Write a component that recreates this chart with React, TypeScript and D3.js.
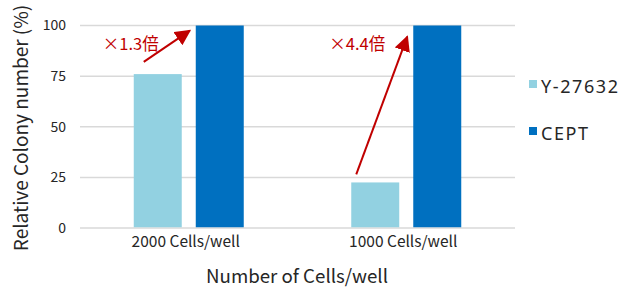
import React, { useEffect, useRef } from "react";
import * as d3 from "d3";

const categories = ["2000 Cells/well", "1000 Cells/well"];
const seriesNames = ["Y-27632", "CEPT"];
const y27632Values = [76, 22.5];
const ceptValues = [100, 100];
const yTicks = [0, 25, 50, 75, 100];
const colors = ["#92d1e1", "#0070c0"];

// fold-change arrows (values in %), with their labels
const arrowLabels = ["×1.3倍", "×4.4倍"];
const arrowFrom = [82, 26.5];
const arrowTo = [97.5, 94.5];

const FONT = "'Noto Sans CJK JP', 'Noto Sans', sans-serif";

const App = () => {
  const ref = useRef<SVGSVGElement>(null);

  useEffect(() => {
    const width = 623;
    const height = 292;
    const marginLeft = 80;
    const marginRight = 108;
    const marginTop = 25.5;
    const marginBottom = 64;

    const svg = d3.select(ref.current);
    svg.selectAll("*").remove();
    svg.attr("width", width).attr("height", height).attr("viewBox", [0, 0, width, height]);

    const x = d3.scaleBand(categories, [marginLeft, width - marginRight]);
    const xz = d3.scaleBand(seriesNames, [0, 110]).paddingInner(0.226);
    const groupOffset = (x.bandwidth() - 110) / 2;
    const y = d3.scaleLinear([0, 100], [height - marginBottom, marginTop]);

    // grid
    svg
      .append("g")
      .selectAll("line")
      .data(yTicks)
      .join("line")
      .attr("x1", marginLeft)
      .attr("x2", width - marginRight)
      .attr("y1", (d) => y(d))
      .attr("y2", (d) => y(d))
      .attr("stroke", "#d9d9d9")
      .attr("stroke-width", 1.5);

    svg
      .append("g")
      .selectAll("text")
      .data(yTicks)
      .join("text")
      .attr("x", 66)
      .attr("y", (d) => y(d))
      .attr("dy", "0.35em")
      .attr("text-anchor", "end")
      .attr("font-family", FONT)
      .attr("font-size", 14)
      .attr("fill", "#262626")
      .text((d) => d);

    const series = [y27632Values, ceptValues];
    series.forEach((vals, si) => {
      svg
        .append("g")
        .selectAll("rect")
        .data(vals)
        .join("rect")
        .attr("x", (d, i) => x(categories[i])! + groupOffset + xz(seriesNames[si])!)
        .attr("y", (d) => y(d))
        .attr("width", xz.bandwidth())
        .attr("height", (d) => y(0) - y(d) - 0.75)
        .attr("fill", colors[si]);
    });

    svg
      .append("g")
      .selectAll("text")
      .data(categories)
      .join("text")
      .attr("x", (d) => x(d)! + x.bandwidth() / 2 - 3)
      .attr("y", 247)
      .attr("text-anchor", "middle")
      .attr("font-family", FONT)
      .attr("font-size", 15.5)
      .attr("fill", "#262626")
      .text((d) => d);

    // axis titles
    svg
      .append("text")
      .attr("x", 297)
      .attr("y", 283)
      .attr("text-anchor", "middle")
      .attr("font-family", FONT)
      .attr("font-size", 18.7)
      .attr("fill", "#262626")
      .text("Number of Cells/well");

    svg
      .append("text")
      .attr("transform", "translate(28,128) rotate(-90)")
      .attr("text-anchor", "middle")
      .attr("font-family", FONT)
      .attr("font-size", 19)
      .attr("fill", "#262626")
      .text("Relative Colony number (%)");

    // arrows
    const defs = svg.append("defs");
    defs
      .append("marker")
      .attr("id", "head")
      .attr("viewBox", "0 0 10 10")
      .attr("refX", 9)
      .attr("refY", 5)
      .attr("markerWidth", 8)
      .attr("markerHeight", 8)
      .attr("markerUnits", "strokeWidth")
      .attr("orient", "auto")
      .append("path")
      .attr("d", "M0,0 L10,5 L0,10 z")
      .attr("fill", "#c00000");

    categories.forEach((c, i) => {
      const light = x(c)! + groupOffset + xz(seriesNames[0])!;
      const dark = x(c)! + groupOffset + xz(seriesNames[1])!;
      const x1 = i === 0 ? light + 10 : light + 5;
      const x2 = dark - 6;
      svg
        .append("line")
        .attr("x1", x1)
        .attr("y1", y(arrowFrom[i]))
        .attr("x2", x2)
        .attr("y2", y(arrowTo[i]))
        .attr("stroke", "#c00000")
        .attr("stroke-width", 2)
        .attr("marker-end", "url(#head)");
      svg
        .append("text")
        .attr("x", i === 0 ? light - 31 : light - 22)
        .attr("y", 50)
        .attr("font-family", FONT)
        .attr("font-size", 16.5)
        .attr("fill", "#c00000")
        .text(arrowLabels[i]);
    });

    // legend
    const legend = svg
      .append("g")
      .selectAll("g")
      .data(seriesNames)
      .join("g")
      .attr("transform", (d, i) => `translate(529,${80 + i * 47})`);
    legend
      .append("rect")
      .attr("width", 8)
      .attr("height", 8)
      .attr("fill", (d, i) => colors[i]);
    legend
      .append("text")
      .attr("x", 12)
      .attr("y", 12.5)
      .attr("font-family", "'Noto Sans', sans-serif")
      .attr("font-size", 18)
      .attr("letter-spacing", 1.6)
      .attr("fill", "#262626")
      .text((d) => d);
  }, []);

  return <svg ref={ref} style={{ position: "absolute", left: 0, top: 0 }}></svg>;
};

export default App;
